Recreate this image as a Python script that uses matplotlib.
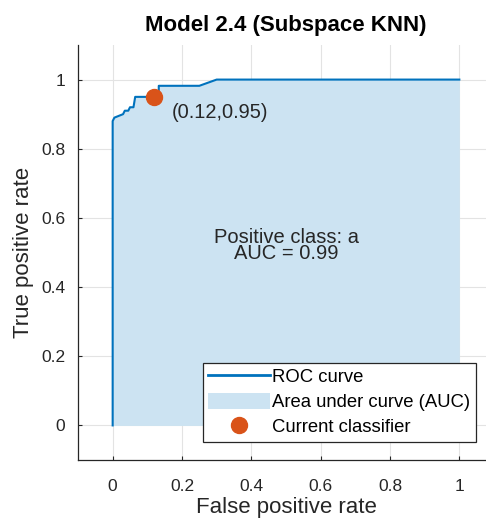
import numpy as np
import matplotlib
matplotlib.use("Agg")
import matplotlib.pyplot as plt
from matplotlib.patches import Patch
from matplotlib.lines import Line2D

plt.rcParams['font.family'] = ['Liberation Sans', 'DejaVu Sans']

# ROC curve
fpr = [0.0, 0.0, 0.005, 0.03, 0.035, 0.045, 0.05, 0.06, 0.065, 0.07, 0.12, 0.133, 0.133, 0.25, 0.30, 1.0]
tpr = [0.0, 0.88, 0.89, 0.90, 0.91, 0.91, 0.92, 0.92, 0.95, 0.95, 0.95, 0.95, 0.982, 0.982, 1.0, 1.0]
current = (0.12, 0.95)
auc = 0.99
pos_class = "a"
ticks = [0, 0.2, 0.4, 0.6, 0.8, 1]
tick_labels = ["0", "0.2", "0.4", "0.6", "0.8", "1"]

blue = "#0072BD"
fill_c = "#CCE3F2"
orange = "#D95319"
dark = "#262626"

fig = plt.figure(figsize=(4.86, 5.21), dpi=100)
ax = fig.add_axes([78/486, 61/521, 416/486, 415/521])

ax.fill_between(fpr, tpr, 0, color=fill_c, linewidth=0)
ax.plot(fpr, tpr, color=blue, linewidth=1.5)
ax.plot(current[0], current[1], 'o', color=orange, markersize=11.5)
ax.text(current[0] + 0.05, current[1] - 0.045, "(%.2f,%.2f)" % current,
        fontsize=14.4, color=dark, va='center', ha='left')
ax.text(0.5, 0.52, "Positive class: %s\nAUC = %.2f" % (pos_class, auc),
        fontsize=14.5, color=dark, ha='center', va='center', linespacing=0.78)

ax.set_xlim(-0.1, 1.1)
ax.set_ylim(-0.1, 1.1)
ax.set_xticks(ticks)
ax.set_yticks(ticks)
ax.set_xticklabels(tick_labels)
ax.set_yticklabels(tick_labels)
ax.grid(True, color="#E3E3E3", linewidth=0.8)
ax.set_axisbelow(True)
for s in ['top', 'right']:
    ax.spines[s].set_visible(False)
for s in ['left', 'bottom']:
    ax.spines[s].set_color(dark)
    ax.spines[s].set_linewidth(0.9)
ax.tick_params(direction='in', length=3, colors=dark, labelsize=12.5)
ax.tick_params(axis='x', pad=14)
ax.tick_params(axis='y', pad=9)

ax.set_title("Model 2.4 (Subspace KNN)", fontsize=16, fontweight='bold', pad=10)
ax.set_xlabel("False positive rate", fontsize=16, color=dark, labelpad=2)
ax.set_ylabel("True positive rate", fontsize=16, color=dark, labelpad=5)

handles = [Line2D([], [], color=blue, linewidth=2),
           Patch(facecolor=fill_c, edgecolor='none'),
           Line2D([], [], color=orange, marker='o', linestyle='none', markersize=11.5)]
labels = ["ROC curve", "Area under curve (AUC)", "Current classifier"]
leg = ax.legend(handles, labels, loc='lower right', bbox_to_anchor=(476/486, 79/521),
                bbox_transform=fig.transFigure, fontsize=13.3, frameon=True, fancybox=False,
                framealpha=1, handlelength=3.35, handletextpad=0.12, borderpad=0.3,
                labelspacing=0.38, borderaxespad=0, handleheight=0.9)
leg.get_frame().set_edgecolor(dark)
leg.get_frame().set_linewidth(0.9)

fig.savefig("out.png", dpi=100)
